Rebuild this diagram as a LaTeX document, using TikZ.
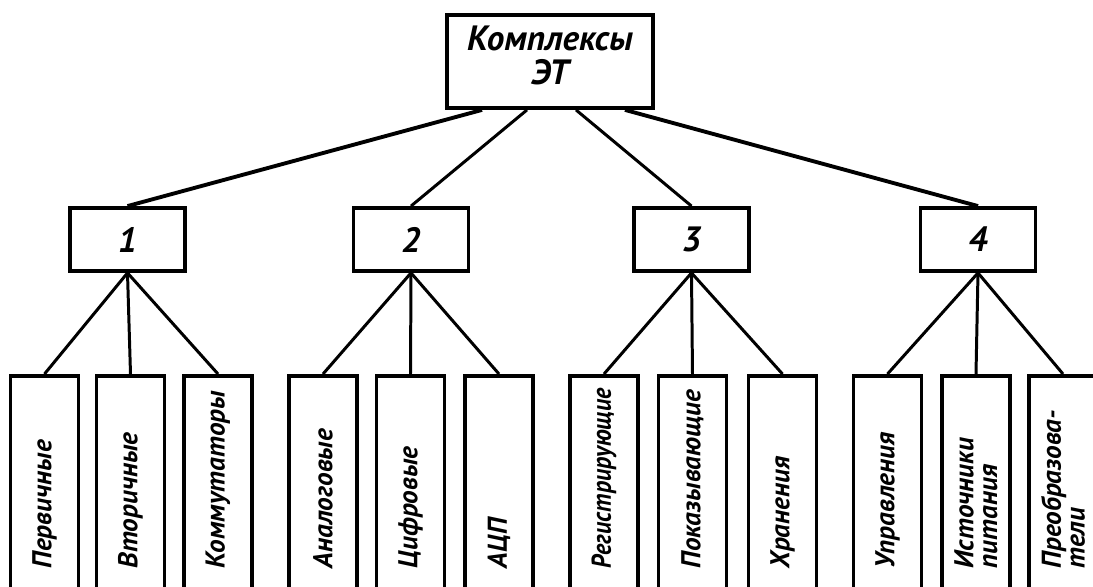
\documentclass[tikz,border=0pt]{standalone}
\usepackage{fontspec}
\setmainfont{PT Sans}
\newfontfamily\narrowfont{PT Sans}[FakeStretch=0.88]
\usetikzlibrary{positioning}
% tight two-line labels
\lineskiplimit=-20pt

\begin{document}
\begin{tikzpicture}[x=0.02cm, y=-0.02cm,
  box/.style={draw, line width=2.2pt, inner sep=0pt,
    font=\bfseries\itshape\fontsize{20}{19.5}\selectfont},
  leaf/.style={draw, line width=2.2pt, rotate=90, anchor=east, inner sep=0pt,
    minimum width=4.6cm, minimum height=1.36cm, text width=3.1cm, align=left,
    font=\bfseries\itshape\fontsize{15.5}{13.5}\selectfont},
  link/.style={line width=1.7pt}]

% Page frame, the long boxes run off its lower edge
\useasboundingbox (0,0) rectangle (1093,587);
\clip (0,0) rectangle (1093,587);

% Root (the rule lifts the two lines a little)
\node[box, minimum width=4.12cm, minimum height=1.86cm, align=center] (top) at (550,61.5) {Комплексы\\ЭТ\rule[-7pt]{0pt}{0pt}};

% Four groups
\node[box, minimum width=2.3cm, minimum height=1.26cm] (n1) at (127.5,239.5) {1};
\node[box, minimum width=2.3cm, minimum height=1.26cm] (n2) at (411,239.5) {2};
\node[box, minimum width=2.3cm, minimum height=1.26cm] (n3) at (691.5,239.5) {3};
\node[box, minimum width=2.3cm, minimum height=1.26cm] (n4) at (978,239.5) {4};

\draw[link, line width=2.2pt] ([xshift=-1.36cm]top.south) -- (n1.north);
\draw[link] ([xshift=-0.46cm]top.south) -- (n2.north);
\draw[link] ([xshift= 0.52cm]top.south) -- (n3.north);
\draw[link, line width=2.2pt] ([xshift= 1.5cm]top.south) -- (n4.north);

% Group 1
\node[leaf] (p11) at (44.5,374) {Первичные};
\node[leaf] (p12) at (130.5,374) {Вторичные};
\node[leaf] (p13) at (218,374) {Коммутаторы};
\draw[link] (n1.south) -- (p11.east);
\draw[link] (n1.south) -- (p12.east);
\draw[link] (n1.south) -- (p13.east);

% Group 2
\node[leaf] (p21) at (323,374) {Аналоговые};
\node[leaf] (p22) at (410.5,374) {Цифровые};
\node[leaf] (p23) at (499,374) {АЦП};
\draw[link] (n2.south) -- (p21.east);
\draw[link] (n2.south) -- (p22.east);
\draw[link] (n2.south) -- (p23.east);

% Group 3
\node[leaf] (p31) at (604,374) {\narrowfont Регистрирующие};
\node[leaf] (p32) at (692.5,374) {Показывающие};
\node[leaf] (p33) at (782.5,374) {Хранения};
\draw[link] (n3.south) -- (p31.east);
\draw[link] (n3.south) -- (p32.east);
\draw[link] (n3.south) -- (p33.east);

% Group 4
\node[leaf] (p41) at (887.5,374) {Управления};
\node[leaf] (p42) at (976,374) {Источники\\питания};
\node[leaf] (p43) at (1063,374) {\mbox{Преобразова-}\\тели};
\draw[link] (n4.south) -- (p41.east);
\draw[link] (n4.south) -- (p42.east);
\draw[link] (n4.south) -- (p43.east);

\end{tikzpicture}
\end{document}
